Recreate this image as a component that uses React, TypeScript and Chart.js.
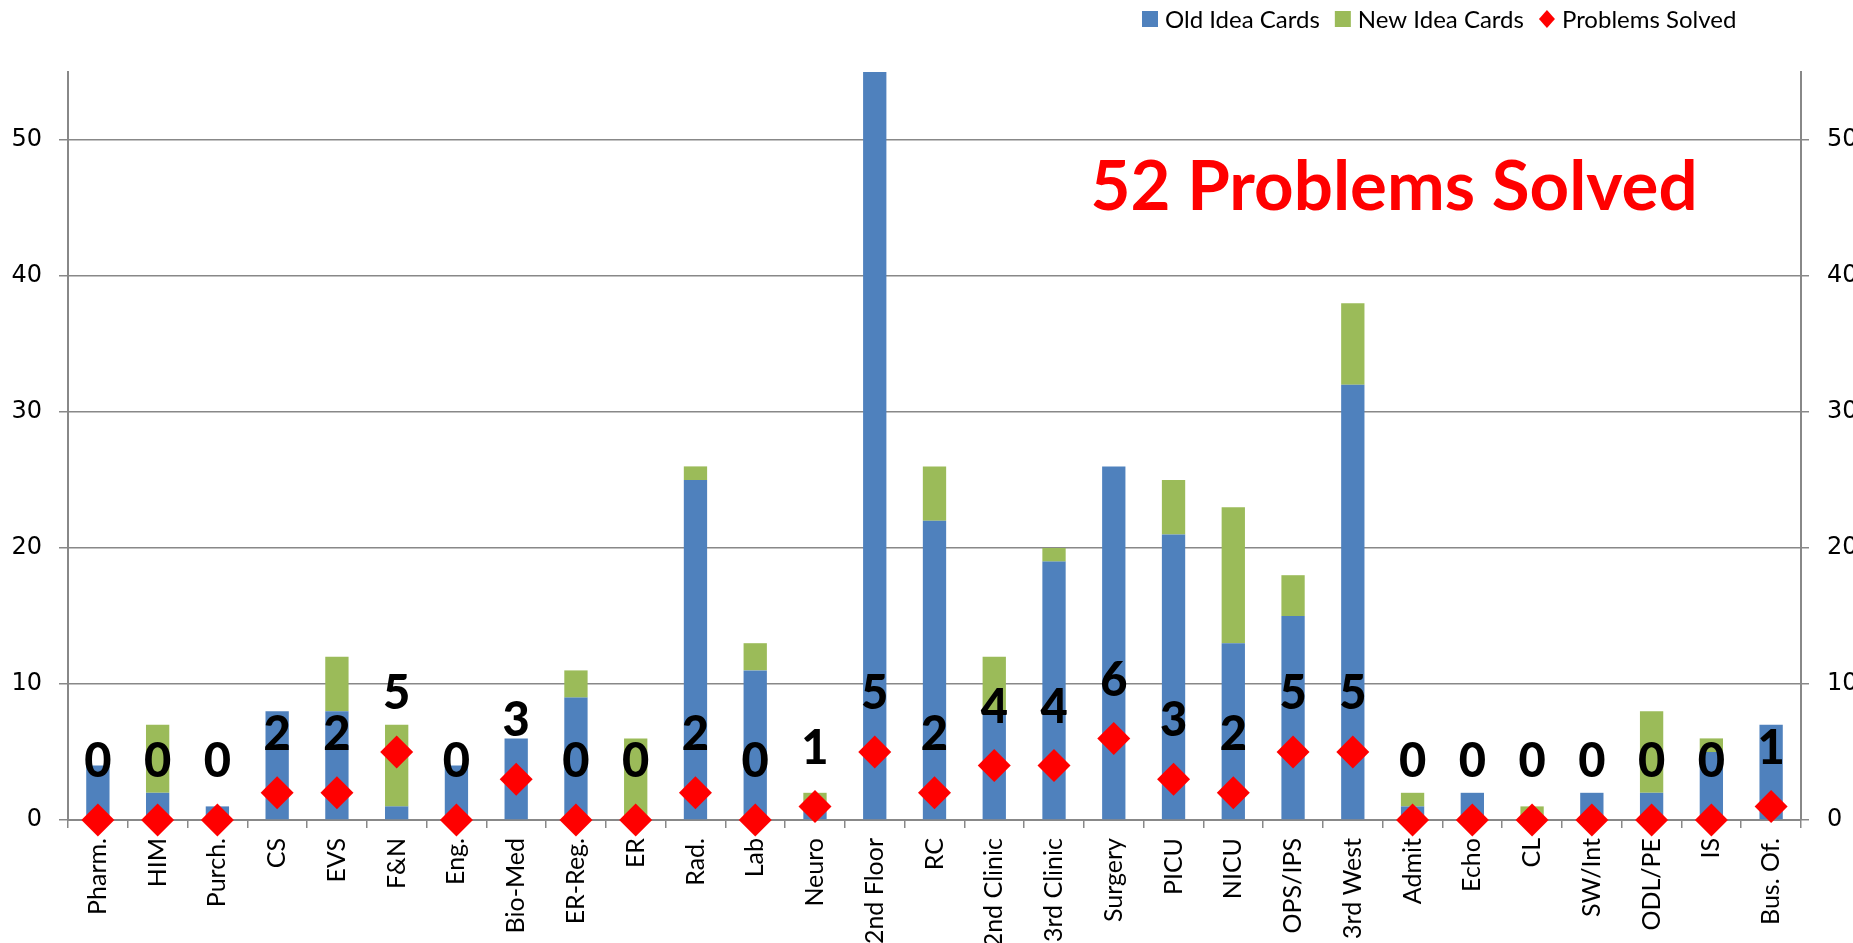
import React, { useEffect, useRef } from "react";
import { Chart, registerables } from "chart.js";

Chart.register(...registerables);

const categories = ["Pharm.", "HIM", "Purch.", "CS", "EVS", "F&N", "Eng.", "Bio-Med", "ER-Reg.", "ER", "Rad.", "Lab", "Neuro", "2nd Floor", "RC", "2nd Clinic", "3rd Clinic", "Surgery", "PICU", "NICU", "OPS/IPS", "3rd West", "Admit", "Echo", "CL", "SW/Int", "ODL/PE", "IS", "Bus. Of."];
const oldIdeaCards = [4, 2, 1, 8, 8, 1, 4, 6, 9, 0, 25, 11, 1, 60, 22, 8, 19, 26, 21, 13, 15, 32, 1, 2, 0, 2, 2, 5, 7];
const newIdeaCards = [0, 5, 0, 0, 4, 6, 0, 0, 2, 6, 1, 2, 1, 0, 4, 4, 1, 0, 4, 10, 3, 6, 1, 0, 1, 0, 6, 1, 0];
const problemsSolved = [0, 0, 0, 2, 2, 5, 0, 3, 0, 0, 2, 0, 1, 5, 2, 4, 4, 6, 3, 2, 5, 5, 0, 0, 0, 0, 0, 0, 1];
const yTicks = [0, 10, 20, 30, 40, 50];

const BLUE = "#4F81BD";
const GREEN = "#9BBB59";
const RED = "#FF0000";
const GRID = "#888888";

const overlayPlugin = {
  id: "overlay",
  afterDatasetsDraw(chart: any) {
    const ctx = chart.ctx;
    const meta = chart.getDatasetMeta(2);
    ctx.save();
    ctx.font = "900 47px Lato";
    ctx.fillStyle = "#000";
    ctx.textAlign = "center";
    ctx.textBaseline = "middle";
    meta.data.forEach((pt: any, i: number) => {
      ctx.fillText(String(problemsSolved[i]), pt.x, pt.y - 58);
    });
    ctx.restore();
  },
  afterDraw(chart: any) {
    const ctx = chart.ctx;
    ctx.save();
    const total = problemsSolved.reduce((a, b) => a + b, 0);
    ctx.font = "bold 69px Lato";
    ctx.fillStyle = RED;
    ctx.textAlign = "center";
    ctx.textBaseline = "alphabetic";
    ctx.fillText(`${total} Problems Solved`, 1394, 210);
    ctx.font = "24px Lato";
    ctx.textBaseline = "middle";
    ctx.textAlign = "left";
    const items = [
      { label: "Old Idea Cards", color: BLUE, shape: "rect" },
      { label: "New Idea Cards", color: GREEN, shape: "rect" },
      { label: "Problems Solved", color: RED, shape: "diamond" },
    ];
    const cy = 19;
    let x = 1142;
    items.forEach((it) => {
      ctx.fillStyle = it.color;
      if (it.shape === "rect") {
        ctx.fillRect(x, cy - 8, 16, 16);
      } else {
        ctx.beginPath();
        ctx.moveTo(x + 8, cy - 9);
        ctx.lineTo(x + 16, cy);
        ctx.lineTo(x + 8, cy + 9);
        ctx.lineTo(x, cy);
        ctx.closePath();
        ctx.fill();
      }
      ctx.fillStyle = "#000";
      ctx.fillText(it.label, x + 23, cy + 1);
      x += 23 + ctx.measureText(it.label).width + 15;
    });
    ctx.restore();
  },
};

export default function App() {
  const ref = useRef<HTMLCanvasElement>(null);
  useEffect(() => {
    if (!ref.current) return;
    const chart = new Chart(ref.current, {
      type: "bar",
      data: {
        labels: categories,
        datasets: [
          {
            type: "bar",
            label: "Old Idea Cards",
            data: oldIdeaCards,
            backgroundColor: BLUE,
            order: 1,
            clip: 0,
            yAxisID: "y",
          } as any,
          {
            type: "bar",
            label: "New Idea Cards",
            data: newIdeaCards,
            backgroundColor: GREEN,
            order: 2,
            clip: 0,
            yAxisID: "y",
          } as any,
          {
            type: "line",
            label: "Problems Solved",
            data: problemsSolved,
            showLine: false,
            pointStyle: "rectRot",
            pointRadius: 16.5,
            pointBackgroundColor: RED,
            pointBorderColor: RED,
            pointBorderWidth: 0,
            order: 0,
            clip: false,
            yAxisID: "y2",
          } as any,
        ],
      },
      options: {
        responsive: false,
        animation: false,
        devicePixelRatio: 1,
        layout: { padding: { top: 72, left: 0, right: 0, bottom: 0 } },
        datasets: { bar: { barPercentage: 0.39, categoryPercentage: 1 } },
        plugins: { legend: { display: false }, tooltip: { enabled: false }, title: { display: false } },
        scales: {
          x: {
            stacked: true,
            offset: true,
            grid: { display: true, drawOnChartArea: false, offset: true, tickLength: 8, color: GRID, lineWidth: 1.5 },
            border: { display: true, color: GRID, width: 2 },
            ticks: {
              minRotation: 90,
              maxRotation: 90,
              autoSkip: false,
              padding: 10,
              color: "#000",
              font: { family: "Lato", size: 25 },
            },
            afterFit: (s: any) => { s.height = 123; },
          },
          y: {
            stacked: true,
            position: "left",
            min: 0,
            max: 55,
            afterBuildTicks: (s: any) => { s.ticks = yTicks.map((v) => ({ value: v })); },
            grid: { color: GRID, tickLength: 9, lineWidth: 1.5 },
            border: { display: true, color: GRID, width: 2 },
            ticks: { padding: 17, color: "#000", font: { family: "DejaVu Sans", size: 24 } },
            afterFit: (s: any) => { s.width = 68; },
          },
          y2: {
            position: "right",
            min: 0,
            max: 55,
            afterBuildTicks: (s: any) => { s.ticks = yTicks.map((v) => ({ value: v })); },
            grid: { drawOnChartArea: false, color: GRID, tickLength: 8, lineWidth: 1.5 },
            border: { display: true, color: GRID, width: 2 },
            ticks: { padding: 18, color: "#000", font: { family: "DejaVu Sans", size: 24 } },
            afterFit: (s: any) => { s.width = 52; },
          },
        },
      } as any,
      plugins: [overlayPlugin],
    });
    return () => chart.destroy();
  }, []);
  return (
    <div style={{ position: "fixed", left: 0, top: 0, width: 1853, height: 943, background: "#fff" }}>
      <canvas ref={ref} width={1853} height={943} style={{ display: "block" }} />
    </div>
  );
}
